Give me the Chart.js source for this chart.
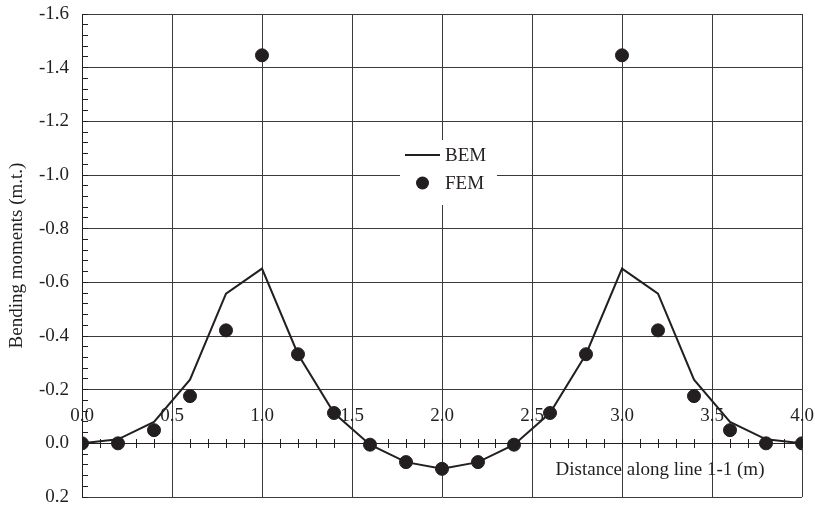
<!DOCTYPE html>
<html>
<head>
<meta charset="utf-8">
<script src="https://cdn.jsdelivr.net/npm/chart.js@4"></script>
<style>
    html, body { margin: 0; padding: 0; background: #fff; }
    #wrap { width: 815px; height: 505px; }
</style>
</head>
<body>
<div id="wrap"><canvas id="momentChart" width="815" height="505"></canvas></div>
<script>
// datos
const distancias = [0, 0.2, 0.4, 0.6, 0.8, 1.0, 1.2, 1.4, 1.6, 1.8, 2.0, 2.2, 2.4, 2.6, 2.8, 3.0, 3.2, 3.4, 3.6, 3.8, 4.0];
const bemValores = [0, -0.015, -0.08, -0.237, -0.558, -0.651, -0.332, -0.113, 0.005, 0.07, 0.095, 0.07, 0.005, -0.113, -0.332, -0.651, -0.558, -0.237, -0.08, -0.015, 0];
const femValores = [0, 0, -0.049, -0.176, -0.421, -1.446, -0.332, -0.113, 0.005, 0.07, 0.095, 0.07, 0.005, -0.113, -0.332, -1.446, -0.421, -0.176, -0.049, 0, 0];
const serieNombres = ["BEM", "FEM"];
const ejeXTitulo = "Distance along line 1-1 (m)";
const ejeYTitulo = "Bending moments (m.t.)";

const tinta = "#231f20";
const gridColor = "#3a3a3a";
const fuente = "'Liberation Serif', 'Times New Roman', serif";
const tam = 19;

function esMultiplo(v, paso) {
    const r = v / paso;
    return Math.abs(r - Math.round(r)) < 1e-6;
}

// quitar el espacio extra que chart.js reserva
function sinRelleno(s) {
    s.paddingTop = 0;
    s.paddingBottom = 0;
    s.paddingLeft = 0;
    s.paddingRight = 0;
}

// leyenda y titulo del eje x dibujados a mano
const extras = {
    id: "extras",
    afterDraw(chart) {
        const ctx = chart.ctx;
        const ds = chart.data.datasets;
        ctx.save();
        ctx.fillStyle = "#fff";
        ctx.fillRect(400, 140, 97, 65);

        ctx.strokeStyle = ds[0].borderColor;
        ctx.lineWidth = ds[0].borderWidth;
        ctx.beginPath();
        ctx.moveTo(405, 155);
        ctx.lineTo(440, 155);
        ctx.stroke();

        ctx.fillStyle = ds[1].backgroundColor;
        ctx.beginPath();
        ctx.arc(422.5, 183, ds[1].pointRadius, 0, Math.PI * 2);
        ctx.fill();

        ctx.fillStyle = tinta;
        ctx.font = tam + "px " + fuente;
        ctx.textAlign = "left";
        ctx.textBaseline = "middle";
        ctx.fillText(serieNombres[0], 445, 156);
        ctx.fillText(serieNombres[1], 445, 184);

        ctx.textAlign = "center";
        ctx.fillText(ejeXTitulo, 660, 470);
        ctx.restore();
    }
};

const momentChart = new Chart(document.getElementById("momentChart"), {
    type: "scatter",
    data: {
        datasets: [
            {
                label: serieNombres[0],
                type: "line",
                data: distancias.map((x, i) => ({ x: x, y: bemValores[i] })),
                borderColor: tinta,
                backgroundColor: tinta,
                borderWidth: 2,
                pointRadius: 0,
                tension: 0,
                order: 2
            },
            {
                label: serieNombres[1],
                data: distancias.map((x, i) => ({ x: x, y: femValores[i] })),
                borderColor: tinta,
                backgroundColor: tinta,
                pointRadius: 6.5,
                pointHoverRadius: 6.5,
                order: 1
            }
        ]
    },
    options: {
        responsive: false,
        animation: false,
        events: [],
        layout: { padding: { top: 14, right: 13, bottom: 8, left: 0 } },
        plugins: { legend: { display: false }, tooltip: { enabled: false } },
        scales: {
            x: {
                type: "linear",
                position: { y: 0 },
                min: 0,
                max: 4,
                afterFit: (s) => { s.height = 0; sinRelleno(s); },
                border: { display: true, color: tinta, width: 1 },
                grid: {
                    color: (c) => esMultiplo(c.tick.value, 0.5) ? gridColor : "rgba(0,0,0,0)",
                    tickColor: tinta,
                    tickLength: 4,
                    lineWidth: 1
                },
                ticks: {
                    stepSize: 0.1,
                    autoSkip: false,
                    maxRotation: 0,
                    padding: -43,
                    color: tinta,
                    font: { family: fuente, size: tam },
                    callback: (v) => esMultiplo(v, 0.5) ? v.toFixed(1) : ""
                }
            },
            x2: {
                type: "linear",
                axis: "x",
                position: { y: 0 },
                min: 0,
                max: 4,
                afterFit: (s) => { s.height = 0; sinRelleno(s); },
                border: { display: false },
                grid: { drawOnChartArea: false, tickColor: tinta, tickLength: -4 },
                ticks: { stepSize: 0.1, autoSkip: false, display: false }
            },
            y: {
                type: "linear",
                position: "left",
                reverse: true,
                min: -1.6,
                max: 0.2,
                afterFit: (s) => { s.width = 82; sinRelleno(s); },
                border: { display: true, color: tinta, width: 1 },
                grid: {
                    color: (c) => esMultiplo(c.tick.value, 0.2) ? gridColor : "rgba(0,0,0,0)",
                    tickColor: tinta,
                    tickLength: -6,
                    lineWidth: 1
                },
                ticks: {
                    stepSize: 0.04,
                    autoSkip: false,
                    padding: 19,
                    color: tinta,
                    font: { family: fuente, size: tam },
                    callback: (v) => esMultiplo(v, 0.2) ? v.toFixed(1) : ""
                },
                title: {
                    display: true,
                    text: ejeYTitulo,
                    color: tinta,
                    font: { family: fuente, size: tam },
                    padding: { top: 6, bottom: 0 }
                }
            }
        }
    },
    plugins: [extras]
});
</script>
</body>
</html>
